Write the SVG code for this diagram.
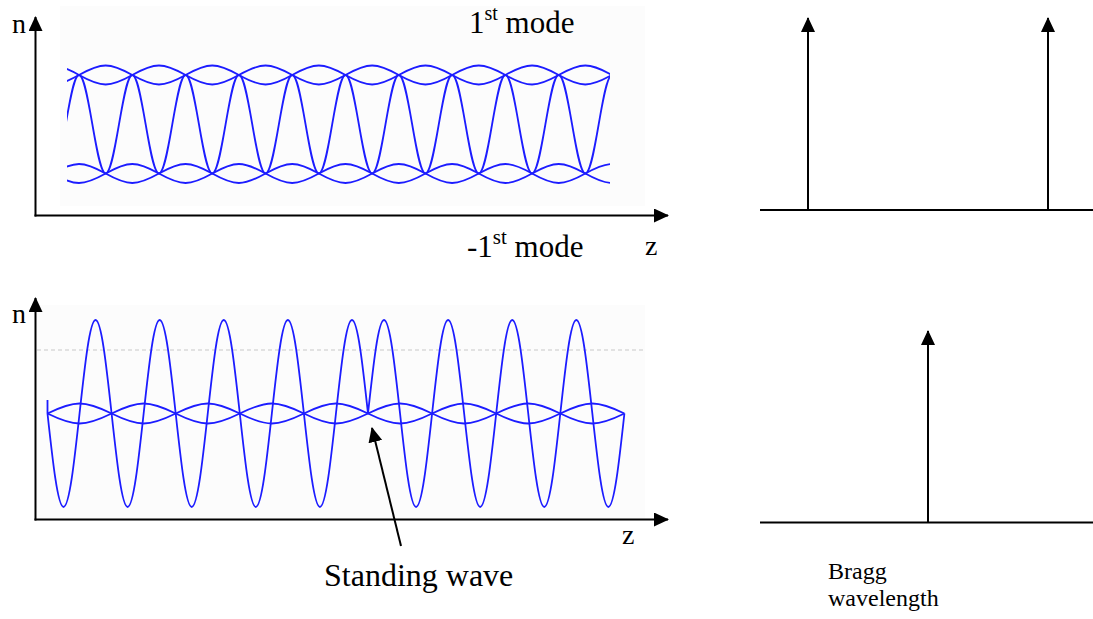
<svg xmlns="http://www.w3.org/2000/svg" width="1093" height="619" viewBox="0 0 1093 619">
<style>
text{font-family:"Liberation Serif","DejaVu Serif","Times New Roman",serif;fill:#000}
.ax{stroke:#000;stroke-width:2;fill:none}
.wv{stroke:#1c1cff;stroke-width:1.8;fill:none;stroke-linejoin:round}
.bg{fill:#fcfcfc}
.dash{stroke:#c8c8c8;stroke-width:1.2;stroke-dasharray:4 3;fill:none}
</style>
<defs>
<marker id="ah" viewBox="0 0 15 14" markerWidth="15" markerHeight="14" refX="14" refY="7" orient="auto" markerUnits="userSpaceOnUse">
<path d="M0,0 L15,7 L0,14 z" fill="#000"/>
</marker>
<clipPath id="clipTop"><rect x="67" y="0" width="543" height="214"/></clipPath>
</defs>
<rect width="1093" height="619" fill="#fff"/>

<g id="top-plot">
<rect class="bg" x="60" y="6" width="585" height="200"/>
<g clip-path="url(#clipTop)">
<path class="wv" d="M65.7,124.25 c4.345,-25.23 8.503,-49.25 13.325,-49.25 c4.822,0 8.98,24.02 13.325,49.25 c4.345,25.23 8.503,49.25 13.325,49.25 c4.822,0 8.98,-24.02 13.325,-49.25 c4.345,-25.23 8.503,-49.25 13.325,-49.25 c4.822,0 8.98,24.02 13.325,49.25 c4.345,25.23 8.503,49.25 13.325,49.25 c4.822,0 8.98,-24.02 13.325,-49.25 c4.345,-25.23 8.503,-49.25 13.325,-49.25 c4.822,0 8.98,24.02 13.325,49.25 c4.345,25.23 8.503,49.25 13.325,49.25 c4.822,0 8.98,-24.02 13.325,-49.25 c4.345,-25.23 8.503,-49.25 13.325,-49.25 c4.822,0 8.98,24.02 13.325,49.25 c4.345,25.23 8.503,49.25 13.325,49.25 c4.822,0 8.98,-24.02 13.325,-49.25 c4.345,-25.23 8.503,-49.25 13.325,-49.25 c4.822,0 8.98,24.02 13.325,49.25 c4.345,25.23 8.503,49.25 13.325,49.25 c4.822,0 8.98,-24.02 13.325,-49.25 c4.345,-25.23 8.503,-49.25 13.325,-49.25 c4.822,0 8.98,24.02 13.325,49.25 c4.345,25.23 8.503,49.25 13.325,49.25 c4.822,0 8.98,-24.02 13.325,-49.25 c4.345,-25.23 8.503,-49.25 13.325,-49.25 c4.822,0 8.98,24.02 13.325,49.25 c4.345,25.23 8.503,49.25 13.325,49.25 c4.822,0 8.98,-24.02 13.325,-49.25 c4.345,-25.23 8.503,-49.25 13.325,-49.25 c4.822,0 8.98,24.02 13.325,49.25 c4.345,25.23 8.503,49.25 13.325,49.25 c4.822,0 8.98,-24.02 13.325,-49.25 c4.345,-25.23 8.503,-49.25 13.325,-49.25 c4.822,0 8.98,24.02 13.325,49.25 c4.345,25.23 8.503,49.25 13.325,49.25 c4.822,0 8.98,-24.02 13.325,-49.25 c4.345,-25.23 8.503,-49.25 13.325,-49.25 c4.822,0 8.98,24.02 13.325,49.25 c4.345,25.23 8.503,49.25 13.325,49.25 c4.822,0 8.98,-24.02 13.325,-49.25 c4.345,-25.23 8.503,-49.25 13.325,-49.25"/>
<path class="wv" d="M25.7,75 c22.62,-12.67 30.68,-12.67 53.3,0 c22.62,12.67 30.68,12.67 53.3,0 c22.62,-12.67 30.68,-12.67 53.3,0 c22.62,12.67 30.68,12.67 53.3,0 c22.62,-12.67 30.68,-12.67 53.3,0 c22.62,12.67 30.68,12.67 53.3,0 c22.62,-12.67 30.68,-12.67 53.3,0 c22.62,12.67 30.68,12.67 53.3,0 c22.62,-12.67 30.68,-12.67 53.3,0 c22.62,12.67 30.68,12.67 53.3,0 c22.62,-12.67 30.68,-12.67 53.3,0 c22.62,12.67 30.68,12.67 53.3,0"/>
<path class="wv" d="M25.7,75 c22.62,12.67 30.68,12.67 53.3,0 c22.62,-12.67 30.68,-12.67 53.3,0 c22.62,12.67 30.68,12.67 53.3,0 c22.62,-12.67 30.68,-12.67 53.3,0 c22.62,12.67 30.68,12.67 53.3,0 c22.62,-12.67 30.68,-12.67 53.3,0 c22.62,12.67 30.68,12.67 53.3,0 c22.62,-12.67 30.68,-12.67 53.3,0 c22.62,12.67 30.68,12.67 53.3,0 c22.62,-12.67 30.68,-12.67 53.3,0 c22.62,12.67 30.68,12.67 53.3,0 c22.62,-12.67 30.68,-12.67 53.3,0"/>
<path class="wv" d="M52.35,173.5 c22.62,-12.67 30.68,-12.67 53.3,0 c22.62,12.67 30.68,12.67 53.3,0 c22.62,-12.67 30.68,-12.67 53.3,0 c22.62,12.67 30.68,12.67 53.3,0 c22.62,-12.67 30.68,-12.67 53.3,0 c22.62,12.67 30.68,12.67 53.3,0 c22.62,-12.67 30.68,-12.67 53.3,0 c22.62,12.67 30.68,12.67 53.3,0 c22.62,-12.67 30.68,-12.67 53.3,0 c22.62,12.67 30.68,12.67 53.3,0 c22.62,-12.67 30.68,-12.67 53.3,0"/>
<path class="wv" d="M52.35,173.5 c22.62,12.67 30.68,12.67 53.3,0 c22.62,-12.67 30.68,-12.67 53.3,0 c22.62,12.67 30.68,12.67 53.3,0 c22.62,-12.67 30.68,-12.67 53.3,0 c22.62,12.67 30.68,12.67 53.3,0 c22.62,-12.67 30.68,-12.67 53.3,0 c22.62,12.67 30.68,12.67 53.3,0 c22.62,-12.67 30.68,-12.67 53.3,0 c22.62,12.67 30.68,12.67 53.3,0 c22.62,-12.67 30.68,-12.67 53.3,0 c22.62,12.67 30.68,12.67 53.3,0"/>
</g>
<text x="12" y="33" font-size="28">n</text>
<text x="469" y="33" font-size="31">1<tspan font-size="20" dy="-13.5">st</tspan><tspan dy="13.5"> mode</tspan></text>
<text x="467" y="257" font-size="31">-1<tspan font-size="21" dy="-13.5">st</tspan><tspan dy="13.5"> mode</tspan></text>
<text x="645" y="255" font-size="28">z</text>
</g>

<g id="bottom-plot">
<rect class="bg" x="37" y="305" width="608" height="213"/>
<line class="dash" x1="37" y1="350" x2="645" y2="350"/>
<path class="wv" d="M47.5,400 L47.5,413.5 c5.226,47.9 10.226,93.5 16.025,93.5 c5.799,0 10.799,-45.6 16.025,-93.5 c5.226,-47.9 10.226,-93.5 16.025,-93.5 c5.799,0 10.799,45.6 16.025,93.5 c5.226,47.9 10.226,93.5 16.025,93.5 c5.799,0 10.799,-45.6 16.025,-93.5 c5.226,-47.9 10.226,-93.5 16.025,-93.5 c5.799,0 10.799,45.6 16.025,93.5 c5.226,47.9 10.226,93.5 16.025,93.5 c5.799,0 10.799,-45.6 16.025,-93.5 c5.226,-47.9 10.226,-93.5 16.025,-93.5 c5.799,0 10.799,45.6 16.025,93.5 c5.226,47.9 10.226,93.5 16.025,93.5 c5.799,0 10.799,-45.6 16.025,-93.5 c5.226,-47.9 10.226,-93.5 16.025,-93.5 c5.799,0 10.799,45.6 16.025,93.5 c5.226,47.9 10.226,93.5 16.025,93.5 c5.799,0 10.799,-45.6 16.025,-93.5 c5.226,-47.9 10.226,-93.5 16.025,-93.5 c5.799,0 10.799,45.6 16.025,93.5 c5.226,-47.9 10.226,-93.5 16.025,-93.5 c5.799,0 10.799,45.6 16.025,93.5 c5.226,47.9 10.226,93.5 16.025,93.5 c5.799,0 10.799,-45.6 16.025,-93.5 c5.226,-47.9 10.226,-93.5 16.025,-93.5 c5.799,0 10.799,45.6 16.025,93.5 c5.226,47.9 10.226,93.5 16.025,93.5 c5.799,0 10.799,-45.6 16.025,-93.5 c5.226,-47.9 10.226,-93.5 16.025,-93.5 c5.799,0 10.799,45.6 16.025,93.5 c5.226,47.9 10.226,93.5 16.025,93.5 c5.799,0 10.799,-45.6 16.025,-93.5 c5.226,-47.9 10.226,-93.5 16.025,-93.5 c5.799,0 10.799,45.6 16.025,93.5 c5.226,47.9 10.226,93.5 16.025,93.5 c5.799,0 10.799,-45.6 16.025,-93.5"/>
<path class="wv" d="M47.5,413.5 c27.2,-13.33 36.9,-13.33 64.1,0 c27.2,13.33 36.9,13.33 64.1,0 c27.2,-13.33 36.9,-13.33 64.1,0 c27.2,13.33 36.9,13.33 64.1,0 c27.2,-13.33 36.9,-13.33 64.1,0 c27.2,13.33 36.9,13.33 64.1,0 c27.2,-13.33 36.9,-13.33 64.1,0 c27.2,13.33 36.9,13.33 64.1,0 c27.2,-13.33 36.9,-13.33 64.1,0"/>
<path class="wv" d="M47.5,413.5 c27.2,13.33 36.9,13.33 64.1,0 c27.2,-13.33 36.9,-13.33 64.1,0 c27.2,13.33 36.9,13.33 64.1,0 c27.2,-13.33 36.9,-13.33 64.1,0 c27.2,13.33 36.9,13.33 64.1,0 c27.2,-13.33 36.9,-13.33 64.1,0 c27.2,13.33 36.9,13.33 64.1,0 c27.2,-13.33 36.9,-13.33 64.1,0 c27.2,13.33 36.9,13.33 64.1,0"/>
<text x="12" y="323" font-size="28">n</text>
<text x="622" y="544" font-size="28">z</text>
<text x="324" y="586" font-size="32">Standing wave</text>
</g>

<g id="spectrum-top">
<line class="ax" x1="760" y1="210" x2="1093" y2="210"/>
</g>
<g id="spectrum-bottom">
<line class="ax" x1="760" y1="522.5" x2="1093" y2="522.5"/>
<text x="828" y="579" font-size="24">Bragg</text>
<text x="828" y="606" font-size="24">wavelength</text>
</g>

<g id="connectors">
<line class="ax" x1="35.5" y1="216.5" x2="35.5" y2="17" marker-end="url(#ah)"/>
<line class="ax" x1="34.5" y1="215.5" x2="668" y2="215.5" marker-end="url(#ah)"/>
<line class="ax" x1="35.5" y1="520.5" x2="35.5" y2="298" marker-end="url(#ah)"/>
<line class="ax" x1="34.5" y1="519.5" x2="668" y2="519.5" marker-end="url(#ah)"/>
<line class="ax" x1="808" y1="210" x2="808" y2="18" marker-end="url(#ah)"/>
<line class="ax" x1="1048" y1="210" x2="1048" y2="18" marker-end="url(#ah)"/>
<line class="ax" x1="928" y1="522.5" x2="928" y2="331" marker-end="url(#ah)"/>
<line class="ax" x1="401" y1="546" x2="372" y2="428" marker-end="url(#ah)"/>
</g>
</svg>
